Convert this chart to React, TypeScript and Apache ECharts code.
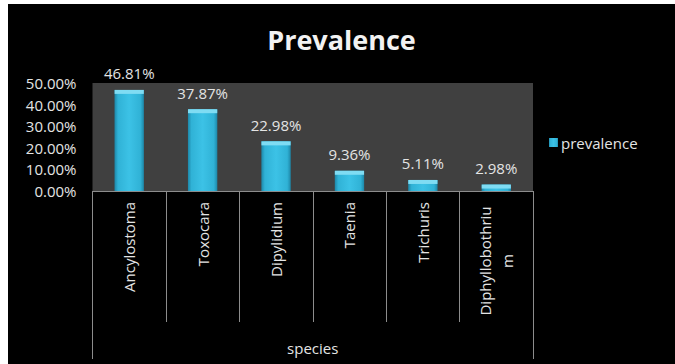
import React, { useEffect, useRef } from "react";
import * as echarts from "echarts";

const categories = ["Ancylostoma", "Toxocara", "Dipylidium", "Taenia", "Trichuris", "Diphyllobothrium"];
const prevalence = [0.4681, 0.3787, 0.2298, 0.0936, 0.0511, 0.0298];
const yTicks = { min: 0, max: 0.5, interval: 0.1 };
const outerCategory = ["species"];

const FONT = "Open Sans";
const TXT = "#e4e4e4";

export default function App() {
  const ref = useRef<HTMLDivElement>(null);
  useEffect(() => {
    document.body.style.margin = "0";
    document.body.style.background = "#ffffff";
    const chart = echarts.init(ref.current!, null, { renderer: "svg" });
    chart.setOption({
      animation: false,
      backgroundColor: "#000000",
      textStyle: { fontFamily: FONT },
      title: {
        text: "Prevalence",
        left: "center",
        top: 17,
        textStyle: { color: "#f2f2f2", fontFamily: FONT, fontWeight: "bold", fontSize: 27 },
      },
      legend: {
        data: ["prevalence"],
        left: 536,
        top: 126,
        icon: "rect",
        itemWidth: 9,
        itemHeight: 9,
        itemGap: 4,
        textStyle: { color: TXT, fontFamily: FONT, fontSize: 15, padding: [0, 0, 0, -2] },
      },
      grid: {
        left: 84.5,
        right: 142,
        top: 79,
        bottom: 173,
        show: true,
        backgroundColor: "#404040",
        borderWidth: 0,
      },
      xAxis: [
        {
          type: "category",
          data: categories,
          position: "bottom",
          axisLine: { show: true, lineStyle: { color: "#8c8c8c", width: 1 } },
          axisTick: { show: true, length: 131, lineStyle: { color: "#8c8c8c", width: 1 } },
          axisLabel: {
            rotate: 90,
            margin: 11,
            color: TXT,
            fontFamily: FONT,
            fontSize: 15,
            interval: 0,
            formatter: (v: string) =>
              v.length > 15 ? `{w|${v.slice(0, 15)}}\n{w|${v.slice(15)}}` : v,
            rich: {
              w: { width: 118, align: "center", color: TXT, fontFamily: FONT, fontSize: 15, lineHeight: 22 },
            },
          },
        },
        {
          type: "category",
          data: outerCategory,
          position: "bottom",
          offset: 0,
          axisLine: { show: false },
          axisTick: { show: true, length: 168, lineStyle: { color: "#8c8c8c", width: 1 } },
          axisLabel: { margin: 149, color: TXT, fontFamily: FONT, fontSize: 15 },
        },
      ],
      yAxis: {
        type: "value",
        min: yTicks.min,
        max: yTicks.max,
        interval: yTicks.interval,
        axisLine: { show: false },
        axisTick: { show: false },
        splitLine: { show: false },
        axisLabel: {
          margin: 16,
          color: TXT,
          fontFamily: FONT,
          fontSize: 15,
          formatter: (v: number) => (v * 100).toFixed(2) + "%",
        },
      },
      series: [
        {
          name: "prevalence",
          type: "bar",
          xAxisIndex: 0,
          data: prevalence,
          barWidth: "40%",
          barGap: "-100%",
          itemStyle: {
            color: new echarts.graphic.LinearGradient(0, 0, 1, 0, [
              { offset: 0, color: "#1d87a8" },
              { offset: 0.12, color: "#30b2d6" },
              { offset: 0.5, color: "#3cc2e6" },
              { offset: 0.88, color: "#30b2d6" },
              { offset: 1, color: "#1d87a8" },
            ]),
          },
          label: {
            show: true,
            position: "top",
            distance: 9,
            color: TXT,
            fontFamily: FONT,
            fontSize: 15,
            formatter: (p: any) => (p.value * 100).toFixed(2) + "%",
          },
        },
        {
          name: "cap",
          type: "pictorialBar",
          xAxisIndex: 0,
          data: prevalence,
          barWidth: "40%",
          barGap: "-100%",
          symbol: "rect",
          symbolPosition: "end",
          symbolSize: ["100%", 4],
          itemStyle: { color: "#7fdcf3" },
          silent: true,
          z: 3,
        },
      ],
    });
    return () => chart.dispose();
  }, []);
  return <div ref={ref} style={{ width: 667, height: 360, marginLeft: 8, marginTop: 4 }} />;
}
